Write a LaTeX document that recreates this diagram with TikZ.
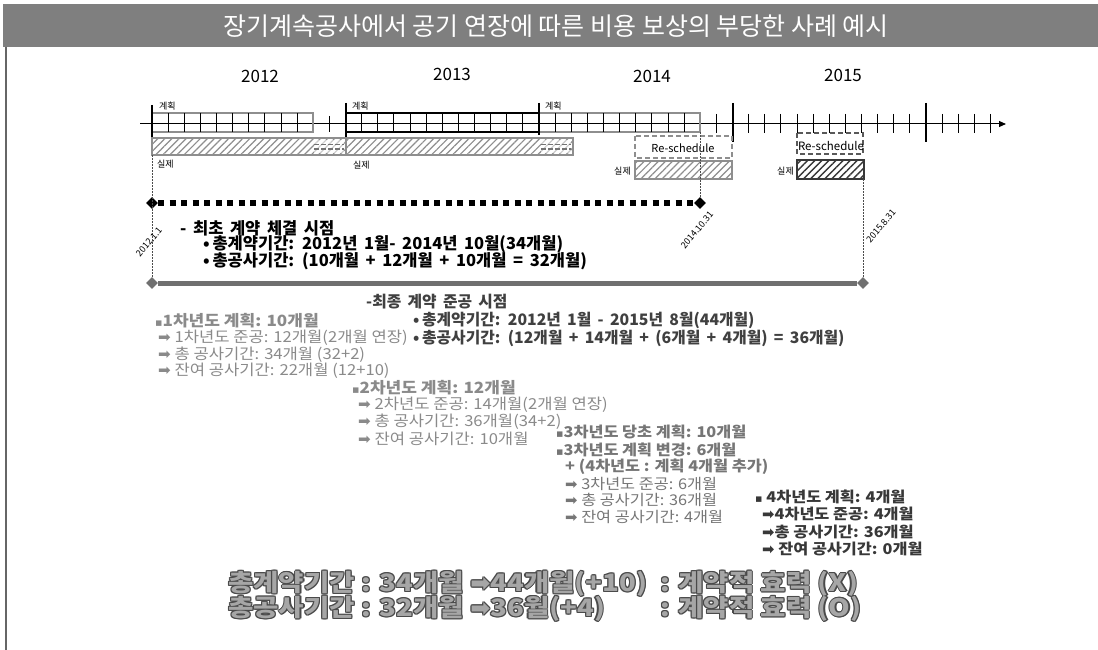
\documentclass[tikz,border=0pt]{standalone}
\usepackage{fontspec}
\setmainfont{Noto Sans CJK KR}
\newfontfamily\krw{Noto Sans CJK KR}[FakeStretch=1.1]
\newfontfamily\krb{Noto Sans CJK KR}[FakeStretch=1.15]
\newfontfamily\dv{DejaVu Sans}
\newfontfamily\dvs{DejaVu Sans}
\usetikzlibrary{shapes.geometric,patterns.meta,arrows.meta}
\definecolor{titlegray}{HTML}{7F7F7F}
\definecolor{boxgray}{HTML}{8E8E8E}
\definecolor{txtgray}{HTML}{8A8A8A}
\definecolor{txtmid}{HTML}{767676}
\definecolor{txtdark}{HTML}{383838}
\definecolor{txtB}{HTML}{404040}
\definecolor{linegray}{HTML}{707070}
\definecolor{outl}{HTML}{4A4A4A}
\definecolor{fillg}{HTML}{A6A6A6}
\newcommand\arr{{\dv\char"27A1}}
\newcommand\sqb{{\dvs\fontsize{11}{11}\selectfont\char"25AA}}
\newcommand\wsp{\spaceskip 0.4em\relax}
\begin{document}
\begin{tikzpicture}[x=1pt,y=-1pt,
  txtA/.style={anchor=west,inner sep=0pt,font=\fontsize{16.5}{17}\selectfont\bfseries\wsp},
  txtBB/.style={anchor=west,inner sep=0pt,text=txtB,font=\fontsize{15.8}{17}\selectfont\bfseries\wsp},
  gtxt/.style={anchor=west,inner sep=0pt,text=txtgray,font=\krw\fontsize{15.1}{17}\selectfont},
  gtxtb/.style={anchor=west,inner sep=0pt,text=txtgray,font=\krw\fontsize{15.5}{17}\selectfont\bfseries},
  mtxt/.style={anchor=west,inner sep=0pt,text=txtmid,font=\krw\fontsize{14.8}{17}\selectfont},
  mtxtb/.style={anchor=west,inner sep=0pt,text=txtmid,font=\krw\fontsize{14.8}{17}\selectfont\bfseries},
  dtxtb/.style={anchor=west,inner sep=0pt,text=txtdark,font=\krw\fontsize{14.8}{17}\selectfont\bfseries},
  big/.style={anchor=west,inner sep=0pt,font=\krb\fontsize{24}{26}\selectfont\bfseries},
  small/.style={inner sep=0pt,font=\fontsize{9}{10}\selectfont},
  year/.style={inner sep=0pt,font=\fontsize{17}{19}\selectfont},
  tick/.style={line width=1pt},
  major/.style={line width=2.5pt},
  hatchgray/.style={draw=boxgray,line width=1.8pt,pattern={Lines[angle=45,distance=5pt,line width=1.2pt]},pattern color=boxgray},
  hatchdark/.style={draw=txtdark,line width=2pt,pattern={Lines[angle=45,distance=5pt,line width=1.4pt]},pattern color=txtdark},
  resched/.style={dashed,dash pattern=on 5pt off 3pt,line width=2pt},
  dia/.style={diamond,inner sep=0pt,minimum size=12pt},
  vdash/.style={dashed,dash pattern=on 2pt off 1pt,line width=0.5pt,draw=black!70}
]
\useasboundingbox (0,0) rectangle (1098,650);
\fill[white] (0,0) rectangle (1098,650);
% title
\fill[titlegray] (3,4) rectangle (1098,47);
\node[inner sep=0pt,text=white,font=\fontsize{25}{27}\selectfont] (title) at (556,26) {장기계속공사에서 공기 연장에 따른 비용 보상의 부당한 사례 예시};
\draw[line width=1.5pt,draw=black!60] (6,47) -- (6,650);
% years
\node[year] (y12) at (260,76) {2012};
\node[year] (y13) at (452,74) {2013};
\node[year] (y14) at (652,76) {2014};
\node[year] (y15) at (843,75) {2015};
% axis
\coordinate (ax0) at (140,124);
\coordinate (ax1) at (1006,124);
\draw[line width=1pt,-{Triangle[length=7pt,width=6pt]}] (ax0) -- (ax1);
% plan boxes
\draw[boxgray,line width=2pt] (152,113) rectangle (313,132);
\foreach \i in {1,...,9} \draw[tick] ({152+16.125*\i},113) -- ({152+16.125*\i},132);
\draw[tick] ({152+16.125*11},116) -- ({152+16.125*11},132);
\draw[black,line width=2pt] (346,113) rectangle (539,132);
\foreach \i in {13,...,23} \draw[tick] ({152+16.125*\i},113) -- ({152+16.125*\i},132);
\draw[boxgray,line width=2pt] (539,113) rectangle (700,132);
\foreach \i in {25,...,33} \draw[tick] ({152+16.125*\i},113) -- ({152+16.125*\i},132);
\foreach \i in {35,37,38,39,40,41,42,43,44,45,46,47,49,50,51,52} \draw[tick] ({152+16.125*\i},114) -- ({152+16.125*\i},133);
\draw[major] (152,105) -- (152,137);
\draw[major] (346,103) -- (346,137);
\draw[major] (539,103) -- (539,135);
\draw[major] (733,103) -- (733,142);
\draw[major] (926,103) -- (926,142);
\node[small,anchor=west] (p12) at (159,106) {계획};
\node[small,anchor=west] (p13) at (352,106) {계획};
\node[small,anchor=west] (p14) at (545,106) {계획};
% actual boxes
\draw[hatchgray] (152,138) rectangle (346,155);
\draw[hatchgray] (346,138) rectangle (573,155);
\foreach \xa/\xb in {314/344,541/571}{
  \fill[white,opacity=0.55] (\xa,140) rectangle (\xb,153);
  \draw[draw=black!55,line width=1.3pt,dash pattern=on 5pt off 2pt] (\xa,144.5) -- (\xb,144.5);
  \draw[draw=black!55,line width=1.3pt,dash pattern=on 5pt off 2pt] (\xa,149) -- (\xb,149);
}
\node[small,anchor=west] (a12) at (157,164) {실제};
\node[small,anchor=west] (a13) at (353,165) {실제};
% 2014 reschedule
\draw[resched,draw=boxgray] (635,136) rectangle (732,158);
\node[inner sep=0pt,font=\fontsize{11}{12}\selectfont] (rs14) at (683,148) {Re-schedule};
\draw[hatchgray] (635,161) rectangle (732,179);
\node[small,anchor=east] (a14) at (631,171) {실제};
% 2015 reschedule
\draw[resched,draw=black!65] (797,133) rectangle (863,154);
\node[inner sep=0pt,font=\fontsize{11.5}{12}\selectfont] (rs15) at (831,146) {Re-schedule};
\draw[hatchdark] (797,160) rectangle (864,179);
\node[small,anchor=east] (a15) at (794,171) {실제};
% markers
\node[dia,fill=black] (d1) at (152,203) {};
\node[dia,fill=black] (d2) at (700,203) {};
\node[dia,fill=linegray] (g1) at (152,283) {};
\node[dia,fill=linegray] (g2) at (863,283) {};
\coordinate (v1) at (152,155);
\coordinate (v2) at (700,132);
\coordinate (v3) at (863,179);
\draw[vdash] (v1) -- (g1);
\draw[vdash] (v2) -- (d2);
\draw[vdash] (v3) -- (g2);
\draw[line width=6pt,dash pattern=on 6pt off 5.5pt] (d1) -- (d2);
\draw[line width=5pt,draw=linegray] (g1) -- (g2);
\node[small,rotate=50] (t1) at (149,242) {2012.1.1};
\node[small,rotate=50] (t2) at (697,230) {2014.10.31};
\node[small,rotate=50] (t3) at (881,226) {2015.8.31};
% block A
\node[txtA] (A0) at (180,228) {- 최초 계약 체결 시점};
\node[txtA] (A1) at (203,244) {•\,총계약기간: 2012년 1월- 2014년 10월(34개월)};
\node[txtA] (A2) at (203,261) {•\,총공사기간: (10개월 + 12개월 + 10개월 = 32개월)};
% block B
\node[txtBB] (B0) at (366,302) {-최종 계약 준공 시점};
\node[txtBB] (B1) at (413,320) {•\,총계약기간: 2012년 1월 - 2015년 8월(44개월)};
\node[txtBB] (B2) at (413,338) {•\,총공사기간: (12개월 + 14개월 + (6개월 + 4개월) = 36개월)};
% year 1
\node[gtxtb] (C0) at (155,321) {\sqb 1차년도 계획: 10개월};
\node[gtxt] (C1) at (158,338) {\arr\ 1차년도 준공: 12개월(2개월 연장)};
\node[gtxt] (C2) at (158,355) {\arr\ 총 공사기간: 34개월 (32+2)};
\node[gtxt] (C3) at (158,371) {\arr\ 잔여 공사기간: 22개월 (12+10)};
% year 2
\node[gtxtb] (D0) at (352,388) {\sqb 2차년도 계획: 12개월};
\node[gtxt] (D1) at (358,405) {\arr\ 2차년도 준공: 14개월(2개월 연장)};
\node[gtxt] (D2) at (358,422) {\arr\ 총 공사기간: 36개월(34+2)};
\node[gtxt] (D3) at (358,439) {\arr\ 잔여 공사기간: 10개월};
% year 3
\node[mtxtb] (E0) at (556,432) {\sqb 3차년도 당초 계획: 10개월};
\node[mtxtb] (E1) at (556,450) {\sqb 3차년도 계획 변경: 6개월};
\node[mtxtb] (E2) at (565,467) {+ (4차년도 : 계획 4개월 추가)};
\node[mtxt] (E3) at (565,484) {\arr\ 3차년도 준공: 6개월};
\node[mtxt] (E4) at (565,500) {\arr\ 총 공사기간: 36개월};
\node[mtxt] (E5) at (565,517) {\arr\ 잔여 공사기간: 4개월};
% year 4
\node[dtxtb] (F0) at (755,497) {\sqb\ 4차년도 계획: 4개월};
\node[dtxtb] (F1) at (762,514) {\arr 4차년도 준공: 4개월};
\node[dtxtb] (F2) at (762,532) {\arr 총 공사기간: 36개월};
\node[dtxtb] (F3) at (762,549) {\arr\ 잔여 공사기간: 0개월};
% bottom summary
\foreach \dx/\dy [count=\k] in {-1.1/0,1.1/0,0/-1.1,0/1.1,-0.8/-0.8,0.8/0.8,-0.8/0.8,0.8/-0.8}{
  \node[big,text=outl,xshift=\dx pt,yshift=\dy pt] (s1o\k) at (228,584) {총계약기간 : 34개월 \arr 44개월(+10)};
  \node[big,text=outl,xshift=\dx pt,yshift=\dy pt] (s1r\k) at (660,584) {: 계약적 효력 (X)};
  \node[big,text=outl,xshift=\dx pt,yshift=\dy pt] (s2o\k) at (228,609) {총공사기간 : 32개월 \arr 36월(+4)};
  \node[big,text=outl,xshift=\dx pt,yshift=\dy pt] (s2r\k) at (660,609) {: 계약적 효력 (O)};
}
\node[big,text=fillg] (s1) at (228,584) {총계약기간 : 34개월 \arr 44개월(+10)};
\node[big,text=fillg] (s1r) at (660,584) {: 계약적 효력 (X)};
\node[big,text=fillg] (s2) at (228,609) {총공사기간 : 32개월 \arr 36월(+4)};
\node[big,text=fillg] (s2r) at (660,609) {: 계약적 효력 (O)};
\end{tikzpicture}
\end{document}
